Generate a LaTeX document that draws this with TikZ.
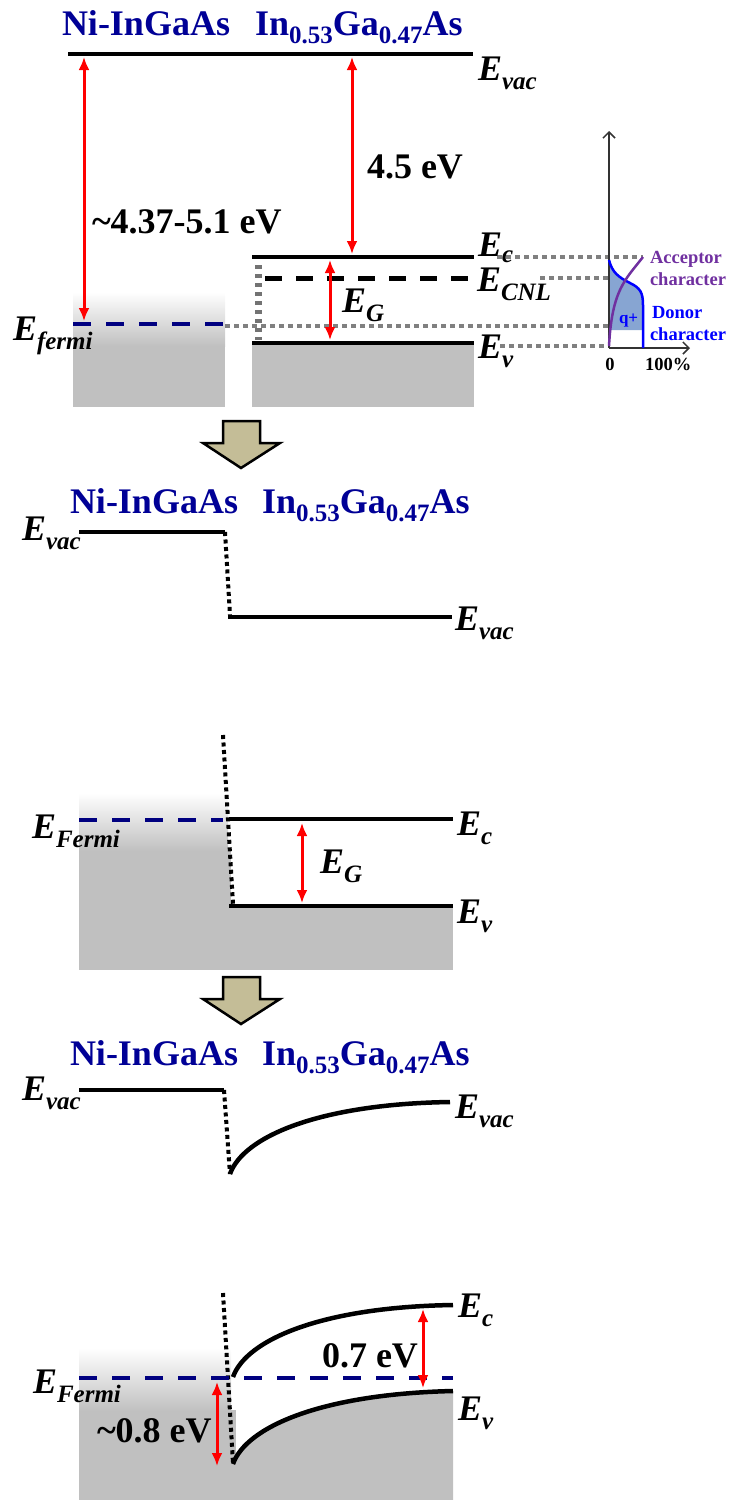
\documentclass[tikz,border=0pt]{standalone}
\usepackage{fontspec}
\setmainfont{Liberation Serif}
\usetikzlibrary{arrows.meta}
\definecolor{ttl}{RGB}{0,0,150}
\definecolor{fermiblue}{RGB}{0,0,128}
\definecolor{bandgray}{RGB}{192,192,192}
\definecolor{dotgray}{RGB}{128,128,128}
\definecolor{arrowtan}{RGB}{196,189,151}
\definecolor{accp}{RGB}{112,48,160}
\definecolor{donb}{RGB}{0,0,255}
\definecolor{qfill}{RGB}{135,165,210}
\definecolor{evred}{RGB}{255,0,0}
\newcommand{\bigf}{\fontsize{36}{40}\selectfont}
\newcommand{\subf}{\fontsize{25}{28}\selectfont}
\newcommand{\smf}{\fontsize{18.5}{20}\selectfont}
\newcommand{\lvl}[1]{{\bigf\bfseries\itshape E\raisebox{-9pt}{\subf #1}}}
\newcommand{\lvlc}[1]{{\bigf\bfseries\itshape E\raisebox{-6pt}{\subf #1}}}
\newcommand{\ingaas}{{\bigf\bfseries In\raisebox{-8pt}{\subf 0.53}Ga\raisebox{-8pt}{\subf 0.47}As}}
\begin{document}
\begin{tikzpicture}[x=1pt,y=-1pt,
  lbl/.style={inner sep=0pt, outer sep=0pt, anchor=base west},
  ttlnode/.style={lbl, text=ttl},
  level/.style={line width=4.5pt},
  fermiline/.style={draw=fermiblue, line width=4pt, dash pattern=on 18pt off 15pt},
  cnlline/.style={line width=5pt, dash pattern=on 17pt off 14pt},
  gdot/.style={draw=dotgray, line width=4pt, dash pattern=on 5pt off 4pt},
  idot/.style={line width=4pt, dash pattern=on 4pt off 3.5pt},
  evarrow/.style={draw=evred, line width=3pt, <->, >={Latex[length=13pt,width=11pt]}},
  downarrow/.style={fill=arrowtan, draw=black, line width=2.5pt, line join=miter},
  axisline/.style={draw=black!80, line width=1.5pt, -{Straight Barb[length=6pt,width=12pt]}},
  curveline/.style={line width=4.5pt}
]
\useasboundingbox (0,0) rectangle (731,1500);

%================ PANEL 1 ================
\node[ttlnode] (t1a) at (62,35) {\bigf\bfseries Ni-InGaAs};
\node[ttlnode] (t1b) at (255,35) {\ingaas};

\fill[bandgray] (73,345) rectangle (225,407);
\shade[top color=white,bottom color=bandgray] (73,292) rectangle (225,346);
\fill[bandgray] (252,343) rectangle (474,407);

% inset fill
\fill[qfill] (609,260) .. controls (612,272) and (618,277) .. (630,283) .. controls (640,288) and (643,292) .. (643,305) -- (643,330) -- (609,330) -- cycle;

\coordinate (vacL1) at (68,54);   \coordinate (vacR1) at (473,54);
\coordinate (ecL1) at (252,257);  \coordinate (ecR1) at (474,257);
\coordinate (cnlL1) at (265,278); \coordinate (cnlR1) at (474,278);
\coordinate (evL1) at (252,343);  \coordinate (evR1) at (474,343);
\coordinate (fL1) at (73,324);    \coordinate (fR1) at (225,324);

% gray dotted guides
\coordinate (gd1a) at (225,326); \coordinate (gd1b) at (609,326);
\coordinate (gd2a) at (497,257); \coordinate (gd2b) at (643,257);
\coordinate (gd3a) at (540,278); \coordinate (gd3b) at (609,278);
\coordinate (gd4a) at (500,346); \coordinate (gd4b) at (609,346);
\coordinate (gv1) at (258,265);  \coordinate (gv2) at (258,340);
\draw[gdot] (gd1a) -- (gd1b);
\draw[gdot] (gd2a) -- (gd2b);
\draw[gdot] (gd3a) -- (gd3b);
\draw[gdot] (gd4a) -- (gd4b);
\draw[draw=dotgray!90!black, line width=7pt, dash pattern=on 4pt off 5pt] (gv1) -- (gv2);

\draw[level] (vacL1) -- (vacR1);
\draw[level] (ecL1) -- (ecR1);
\draw[cnlline] (cnlL1) -- (cnlR1);
\draw[level] (evL1) -- (evR1);
\draw[fermiline] (fL1) -- (fR1);

\coordinate (a1t) at (84,57);  \coordinate (a1b) at (84,321);
\coordinate (a2t) at (352,57); \coordinate (a2b) at (352,254);
\coordinate (g1t) at (330,260); \coordinate (g1b) at (330,340);
\draw[evarrow] (a1t) -- (a1b);
\draw[evarrow] (a2t) -- (a2b);
\draw[evarrow] (g1t) -- (g1b);

\node[lbl] (wf1) at (92,233) {\bigf\bfseries \textasciitilde4.37-5.1 eV};
\node[lbl] (chi1) at (367,178) {\bigf\bfseries 4.5 eV};
\node[lbl] (evac1) at (478,80) {\lvl{vac}};
\node[lbl] (ec1) at (478,256) {\lvlc{c}};
\node[lbl] (ecnl1) at (477,291) {\lvl{CNL}};
\node[lbl] (ev1) at (478,358) {\lvl{v}};
\node[lbl] (eg1) at (342,312) {\lvl{G}};
\node[lbl] (ef1) at (13,340) {\lvl{fermi}};

% inset
\coordinate (org) at (609,348); \coordinate (ytop) at (609,131); \coordinate (xend) at (690,348);
\draw[axisline] (org) -- (ytop);
\draw[axisline] (org) -- (xend);
\draw[donb, line width=2.5pt] (609,260) .. controls (612,272) and (618,277) .. (630,283) .. controls (640,288) and (643,292) .. (643,305) -- (643,348);
\draw[accp, line width=2.5pt] (609,346) .. controls (612,290) and (625,280) .. (643,257);
\node[lbl, text=accp] (acc1) at (650,263) {\smf\bfseries Acceptor};
\node[lbl, text=accp] (acc2) at (650,285) {\smf\bfseries character};
\node[lbl, text=donb] (don1) at (652,318) {\smf\bfseries Donor};
\node[lbl, text=donb] (don2) at (650,340) {\smf\bfseries character};
\node[lbl, text=donb] (qp) at (619,323) {\fontsize{17}{18}\selectfont\bfseries q+};
\node[inner sep=0pt, anchor=base] (zero) at (610,370) {\smf\bfseries 0};
\node[lbl] (hund) at (645,370) {\smf\bfseries 100\%};

% down arrow 1
\draw[downarrow] (223,421) -- (260,421) -- (260,443) -- (280,443) -- (241,468) -- (203,443) -- (223,443) -- cycle;

%================ PANEL 2 ================
\node[ttlnode] (t2a) at (70,513) {\bigf\bfseries Ni-InGaAs};
\node[ttlnode] (t2b) at (262,513) {\ingaas};
\coordinate (v2L) at (79,532); \coordinate (v2M) at (225,532);
\coordinate (v2d) at (230,615);
\coordinate (v2N) at (228,617); \coordinate (v2R) at (452,617);
\draw[level] (v2L) -- (v2M);
\draw[idot] (v2M) -- (v2d);
\draw[level] (v2N) -- (v2R);
\node[lbl] (evac2a) at (22,540) {\lvl{vac}};
\node[lbl] (evac2b) at (455,630) {\lvl{vac}};

%================ PANEL 3 ================
\fill[bandgray] (79,850) rectangle (231,970);
\shade[top color=white,bottom color=bandgray] (79,793) rectangle (228,851);
\fill[bandgray] (229,906) rectangle (453,970);
\coordinate (i3t) at (223,735); \coordinate (i3b) at (233,904);
\draw[idot] (i3t) -- (i3b);
\coordinate (f3L) at (79,820); \coordinate (f3R) at (223,820);
\draw[fermiline] (f3L) -- (f3R);
\coordinate (c3L) at (229,819); \coordinate (c3R) at (453,819);
\coordinate (v3L) at (229,906); \coordinate (v3R) at (453,906);
\draw[level] (c3L) -- (c3R);
\draw[level] (v3L) -- (v3R);
\coordinate (g3t) at (302,823); \coordinate (g3b) at (302,903);
\draw[evarrow] (g3t) -- (g3b);
\node[lbl] (ef3) at (32,838) {\lvl{Fermi}};
\node[lbl] (ec3) at (457,835) {\lvl{c}};
\node[lbl] (ev3) at (457,923) {\lvl{v}};
\node[lbl] (eg3) at (320,873) {\lvl{G}};

% down arrow 2
\draw[downarrow] (223,977) -- (260,977) -- (260,999) -- (280,999) -- (241,1024) -- (203,999) -- (223,999) -- cycle;

%================ PANEL 4 ================
\node[ttlnode] (t4a) at (70,1065) {\bigf\bfseries Ni-InGaAs};
\node[ttlnode] (t4b) at (262,1065) {\ingaas};
\coordinate (v4L) at (79,1090); \coordinate (v4M) at (224,1090);
\coordinate (v4d) at (230,1174);
\coordinate (v4R) at (450,1102);
\draw[level] (v4L) -- (v4M);
\draw[idot] (v4M) -- (v4d);
\draw[curveline] (v4d) .. controls (243,1137) and (318,1104) .. (v4R);
\node[lbl] (evac4a) at (22,1100) {\lvl{vac}};
\node[lbl] (evac4b) at (455,1118) {\lvl{vac}};

%================ PANEL 5 ================
\fill[bandgray] (79,1410) rectangle (236,1500);
\shade[top color=white,bottom color=bandgray] (79,1348) rectangle (231,1411);
\coordinate (v5s) at (233,1464); \coordinate (v5e) at (453,1391);
\coordinate (c5s) at (233,1377); \coordinate (c5e) at (453,1305);
\fill[bandgray] (v5s) .. controls (246,1427) and (321,1394) .. (v5e) -- (453,1500) -- (231,1500) -- (231,1464) -- cycle;
\coordinate (i5t) at (223,1293); \coordinate (i5b) at (233,1463);
\draw[idot] (i5t) -- (i5b);
\coordinate (f5L) at (79,1378); \coordinate (f5R) at (453,1378);
\draw[fermiline] (f5L) -- (f5R);
\draw[curveline] (c5s) .. controls (246,1340) and (321,1307) .. (c5e);
\draw[curveline] (v5s) .. controls (246,1427) and (321,1394) .. (v5e);
\coordinate (g5t) at (423,1309); \coordinate (g5b) at (423,1388);
\draw[evarrow] (g5t) -- (g5b);
\coordinate (b5t) at (217,1382); \coordinate (b5b) at (217,1466);
\draw[evarrow] (b5t) -- (b5b);
\node[lbl] (gap5) at (322,1367) {\bigf\bfseries 0.7 eV};
\node[lbl] (bar5) at (97,1442) {\bigf\bfseries \textasciitilde0.8 eV};
\node[lbl] (ec5) at (458,1317) {\lvl{c}};
\node[lbl] (ev5) at (458,1420) {\lvl{v}};
\node[lbl] (ef5) at (33,1393) {\lvl{Fermi}};
\end{tikzpicture}
\end{document}
